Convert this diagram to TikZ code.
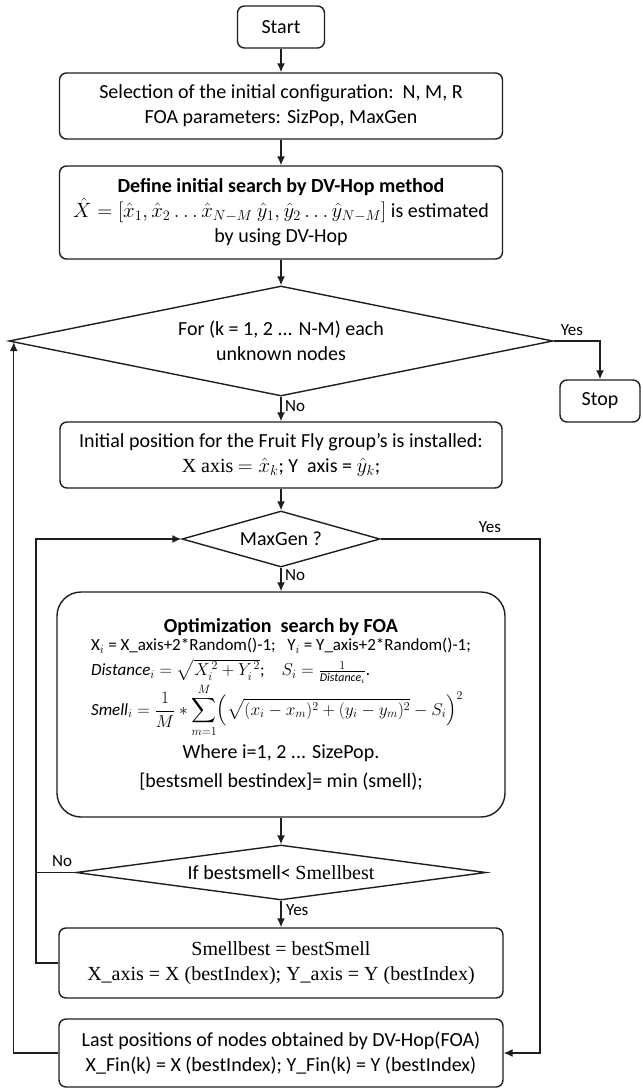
\documentclass[tikz,border=0pt]{standalone}
\usepackage{amsmath}
\usepackage{fontspec}
\setmainfont{Carlito}
\newfontfamily\tnr{Liberation Serif}
\usepackage{tikz}
\usetikzlibrary{calc,positioning,arrows.meta,shapes.geometric}
\definecolor{ink}{HTML}{1E1E1E}
\tikzset{
  blk/.style={draw=ink,rounded corners=7pt,line width=1.4pt,align=center,inner sep=2pt,minimum width=#1},
  dcs/.style={draw=ink,diamond,aspect=#1,line width=1.4pt,inner sep=0pt,align=center},
  flow/.style={-{Latex[length=9pt,width=8pt]},ink,line width=1.4pt},
  wire/.style={ink,line width=1.4pt},
  lbl/.style={font=\fontsize{17}{20}\selectfont,inner sep=1pt},
}

\begin{document}
\begin{tikzpicture}[x=1pt,y=-1pt,font=\fontsize{20}{25}\selectfont]
\useasboundingbox (0,0) rectangle (642,1090);
\node[blk=87pt,minimum height=42pt] (start) at (281,27) {Start};
\node[blk=443pt,minimum height=66pt] (sel) at (281,106) {Selection of the initial configuration:\ \ N, M, R\\FOA parameters: SizPop, MaxGen};
\node[blk=443pt,minimum height=93pt] (def) at (281,212.5) {{\bfseries Define initial search by DV-Hop method}\\$\hat{X}=[\hat{x}_1,\hat{x}_2\ldots\hat{x}_{N-M}\ \hat{y}_1,\hat{y}_2\ldots\hat{y}_{N-M}]$ is estimated\\by using DV-Hop};
\node[dcs=4.95,minimum width=544pt,minimum height=110pt] (for) at (281,341) {For (k = 1, 2 ... N-M) each\\unknown nodes};
\node[blk=80pt,minimum height=42pt] (stop) at (600,401) {Stop};
\node[blk=442pt,minimum height=66pt] (init) at (281,455) {Initial position for the Fruit Fly group's is installed:\\{\tnr X axis} $=\hat{x}_k$; Y\ \ axis = $\hat{y}_k$;};
\node[dcs=3.54,minimum width=198pt,minimum height=56pt] (maxgen) at (281,539) {MaxGen ?};
\node[blk=448pt,rounded corners=24pt,minimum height=225pt] (opt) at (281,704.5) {{\bfseries Optimization\ \ search by FOA}\\[-2pt]
{\fontsize{17}{23}\selectfont\begin{tabular}{@{}l@{}}
X$_i$ = X\_axis+2*Random()-1;\ \ \ Y$_i$ = Y\_axis+2*Random()-1;\\[2pt]
$\mathit{Distance}_i=\sqrt{X_i^{\,2}+Y_i^{\,2}}$;\quad $S_i=\frac{1}{\mathit{Distance}_i}$.\\
$\displaystyle \mathit{Smell}_i=\frac{1}{M}*\sum_{m=1}^{M}\Bigl(\sqrt{(x_i-x_m)^2+(y_i-y_m)^2}-S_i\Bigr)^2$
\end{tabular}}\\[7pt]
Where i=1, 2 ... SizePop.\\[4pt]
{[}bestsmell bestindex{]}= min (smell);};
\node[dcs=7.45,minimum width=410pt,minimum height=55pt] (ifbest) at (281,872.5) {If bestsmell< {\tnr Smellbest}};
\node[blk=444pt,minimum height=70pt,font=\tnr\fontsize{20}{25}\selectfont] (upd) at (281,963) {Smellbest = bestSmell\\X\_axis = X (bestIndex); Y\_axis = Y (bestIndex)};
\node[blk=444pt,minimum height=68pt] (last) at (281,1053) {Last positions of nodes obtained by DV-Hop(FOA)\\X\_Fin(k) = X (bestIndex); Y\_Fin(k) = Y (bestIndex)};
% side rails
\coordinate (lx) at (36,0);
\coordinate (rx) at (540,0);
\coordinate (ox) at (12,0);
\coordinate (fin) at ($(for.west)!0.02!(for.south)$);
% main flow
\draw[flow] (start) -- (sel);
\draw[flow] (sel) -- (def);
\draw[flow] (def) -- (for);
\draw[flow] (for.east) -| (stop.north);
\draw[flow] (for) -- (init);
\draw[flow] (init) -- (maxgen);
\draw[flow] (maxgen) -- (opt);
\draw[flow] (opt) -- (ifbest);
\draw[flow] (ifbest) -- (upd);
% loops
\draw[flow] (upd.west) -| (lx |- maxgen.west) -- (maxgen.west);
\draw[wire] (ifbest.west) -- (lx |- ifbest.west);
\draw[flow] (maxgen.east) -| (rx |- last.east) -- (last.east);
\draw[flow] (last.west) -| (fin);
% labels
\node[lbl] (y1) at (572,330) {Yes};
\node[lbl,anchor=west] (n1) at (284,406) {No};
\node[lbl] (y2) at (490,527) {Yes};
\node[lbl,anchor=west] (n2) at (284,575) {No};
\node[lbl] (n3) at (62,861) {No};
\node[lbl,anchor=west] (y3) at (285,910) {Yes};
\end{tikzpicture}
\end{document}
